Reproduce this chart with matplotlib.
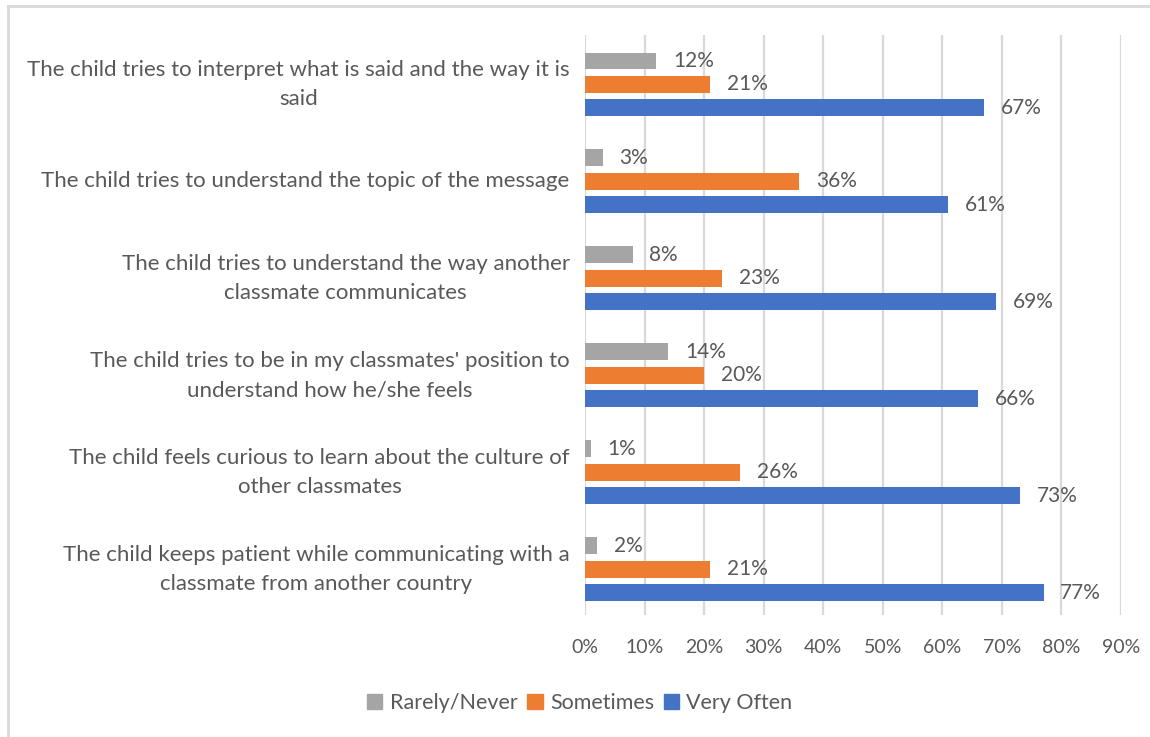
import matplotlib
matplotlib.use("Agg")
import matplotlib.pyplot as plt
import numpy as np
from matplotlib.lines import Line2D
from matplotlib.patches import Patch

plt.rcParams['font.family'] = ['Lato', 'DejaVu Sans']

# survey items, top to bottom
items = [
    "The child tries to interpret what is said and the way it is\nsaid",
    "The child tries to understand the topic of the message",
    "The child tries to understand the way another\nclassmate communicates",
    "The child tries to be in my classmates' position to\nunderstand how he/she feels",
    "The child feels curious to learn about the culture of\nother classmates",
    "The child keeps patient while communicating with a\nclassmate from another country",
]
rarely_never = [12, 3, 8, 14, 1, 2]
sometimes = [21, 36, 23, 20, 26, 21]
very_often = [67, 61, 69, 66, 73, 77]

series = [
    ("Rarely/Never", rarely_never, "#A5A5A5"),
    ("Sometimes", sometimes, "#ED7D31"),
    ("Very Often", very_often, "#4472C4"),
]
x_ticks = [0, 10, 20, 30, 40, 50, 60, 70, 80, 90]

TXT = "#595959"

fig = plt.figure(figsize=(11.5, 7.37), dpi=100)
ax = fig.add_axes([585 / 1150, 1 - 615 / 737, 536 / 1150, 580 / 737])

y = np.arange(len(items))
step = 0.242
h = 0.175
for k, (name, vals, col) in enumerate(series):
    pos = y + (k - 1) * step
    bars = ax.barh(pos, vals, height=h, color=col, label=name, zorder=3)
    for b, v in zip(bars, vals):
        ax.annotate(f"{v}%", (b.get_width(), b.get_y() + b.get_height() / 2),
                    xytext=(12, 0), textcoords="offset points",
                    ha="left", va="center", fontsize=15, color=TXT)

ax.set_xlim(0, 90)
ax.set_ylim(len(items) - 0.53, -0.51)
ax.set_xticks(x_ticks)
ax.set_xticklabels([f"{t}%" for t in x_ticks], fontsize=14)
ax.set_yticks(y)
ax.set_yticklabels(items, linespacing=1.6, fontsize=16)
for lbl in ax.get_yticklabels():
    lbl.set_multialignment("center")
    lbl.set_verticalalignment("center")
ax.tick_params(axis="both", length=0, labelcolor=TXT)
ax.tick_params(axis="y", pad=11)
ax.tick_params(axis="x", pad=17)
ax.grid(axis="x", color="#D9D9D9", linewidth=1.6, zorder=0)
for s in ax.spines.values():
    s.set_visible(False)

handles = [Patch(color=c) for _, _, c in series]
fig.legend(handles, [n for n, _, _ in series], loc="center",
           bbox_to_anchor=(580 / 1150, 1 - 703 / 737), ncol=3, frameon=False,
           fontsize=15.5, labelcolor=TXT, handlelength=0.7, handleheight=0.7,
           handletextpad=0.35, columnspacing=0.45)

# chart frame (top and left edges)
fig.add_artist(Line2D([8 / 1150, 1], [1 - 6 / 737] * 2, color="#D9D9D9", lw=2))
fig.add_artist(Line2D([8 / 1150] * 2, [0, 1 - 6 / 737], color="#D9D9D9", lw=2))

fig.savefig("out.png", dpi=100, facecolor="white")
